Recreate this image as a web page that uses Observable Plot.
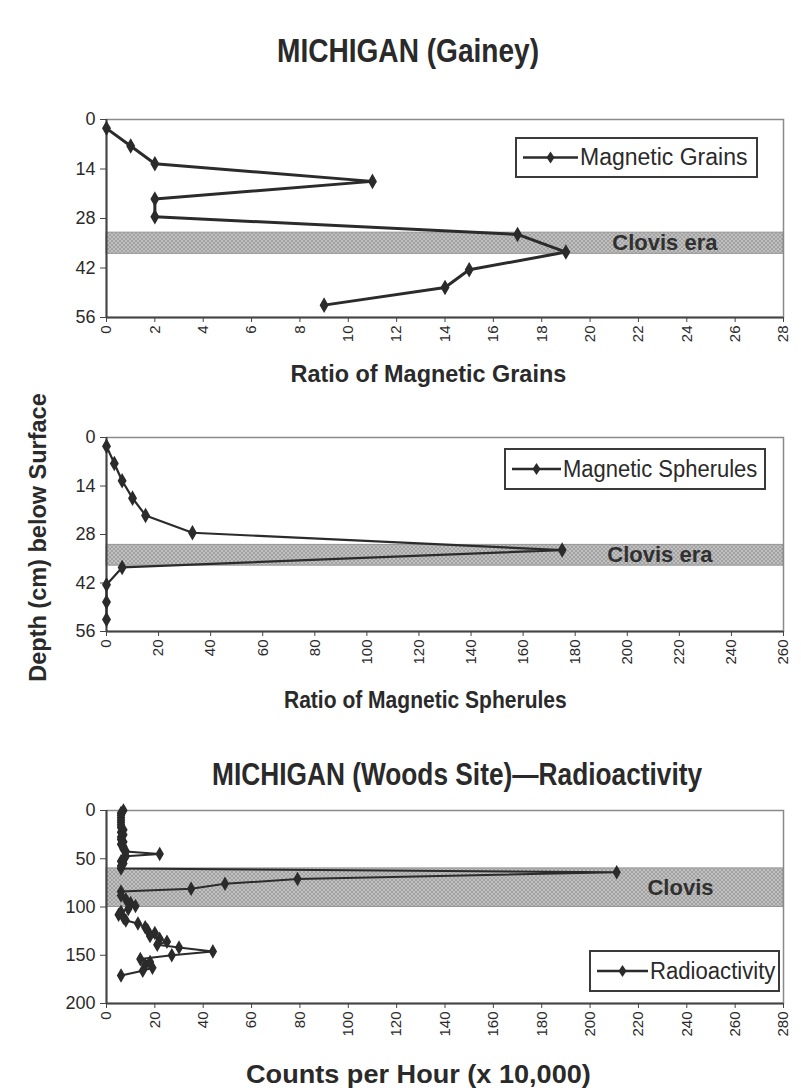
<!DOCTYPE html>
<html>
<head>
<meta charset="utf-8">
<script src="https://cdn.jsdelivr.net/npm/d3@7"></script>
<script src="https://cdn.jsdelivr.net/npm/@observablehq/plot@0.6"></script>
<style>
  html, body { margin: 0; padding: 0; background: #ffffff; }
  #root { position: relative; width: 801px; height: 1092px; overflow: hidden; }
  .panel { position: absolute; left: 0; }
  .legend { position: absolute; box-sizing: border-box; border: 2px solid #3a3a3a; background: #fff;
            font-family: 'Liberation Sans', Arial, sans-serif; color: #2a2a2a; }
</style>
</head>
<body>
<svg width="0" height="0" style="position:absolute">
  <defs>
    <pattern id="hatch" width="4" height="4" patternUnits="userSpaceOnUse">
      <rect width="4" height="4" fill="#c0c0c0"></rect>
      <path d="M0,0 L4,4 M4,0 L0,4" stroke="#a2a2a2" stroke-width="1"></path>
    </pattern>
  </defs>
</svg>
<div id="root"></div>
<script>
// ---------- DATA ----------
const grainsDepth = [2.5, 7.5, 12.5, 17.5, 22.5, 27.5, 32.5, 37.5, 42.5, 47.5, 52.5];
const grainsRatio = [0, 1, 2, 11, 2, 2, 17, 19, 15, 14, 9];

const spherDepth = [2.5, 7.5, 12.5, 17.5, 22.5, 27.5, 32.5, 37.5, 42.5, 47.5, 52.5];
const spherRatio = [0, 3, 6, 10, 15, 33, 175, 6, 0, 0, 0];

const radDepth = [0, 2.5, 5, 7.5, 10, 12.5, 15, 17.5, 20, 22.5, 25, 27.5, 30, 32.5, 35, 37.5, 40, 42.5, 45, 47.5,
                  50, 52.5, 55, 57.5, 60, 64, 71, 76, 81, 84, 88, 92, 96, 99, 102, 105, 108, 111, 114, 117,
                  121, 124, 127, 130, 133, 136, 139, 142, 146, 150, 154, 157, 160, 163, 166, 171];
const radCounts = [7, 6, 6, 6, 6, 6, 6, 6, 7, 6, 7, 6, 6, 7, 6, 7, 7, 8, 22, 8,
                   7, 6, 7, 6, 6, 211, 79, 49, 35, 6, 6, 8, 10, 12, 9, 6, 5, 7, 8, 13,
                   16, 17, 20, 18, 22, 25, 21, 30, 44, 27, 14, 18, 16, 19, 15, 6];

const grainsTicksX = d3.range(0, 29, 2);
const spherTicksX = d3.range(0, 261, 20);
const radTicksX = d3.range(0, 281, 20);
const depthTicks56 = [0, 14, 28, 42, 56];
const depthTicks200 = [0, 50, 100, 150, 200];

const clovisBand1 = [{from: 32, to: 38, label: "Clovis era"}];
const clovisBand2 = [{from: 31, to: 37, label: "Clovis era"}];
const clovisBand3 = [{from: 60, to: 100, label: "Clovis"}];

// ---------- HELPERS ----------
const root = document.getElementById("root");
const FONT = "'Liberation Sans', Arial, sans-serif";
const INK = "#2b2b2b";

function panel({top, plotH, xTicks, yTicks, depth, values, band, labelDx, lineW, dotR}) {
  const data = depth.map((d, i) => ({depth: d, v: values[i]}));
  const chart = Plot.plot({
    width: 801,
    height: 10 + plotH + 45,
    marginLeft: 106, marginRight: 18, marginTop: 10, marginBottom: 45,
    style: {fontFamily: FONT, color: INK, background: "transparent", overflow: "visible"},
    x: {domain: [xTicks[0], xTicks[xTicks.length - 1]], ticks: xTicks, label: null},
    y: {domain: [yTicks[0], yTicks[yTicks.length - 1]], reverse: true, ticks: yTicks, label: null},
    marks: [
      Plot.rect(band, {y1: "from", y2: "to", fill: "url(#hatch)", stroke: "#959595", strokeWidth: 1}),
      Plot.frame({stroke: "#8a8a8a", strokeWidth: 1.5}),
      Plot.ruleX([xTicks[0]], {stroke: "#444", strokeWidth: 2}),
      Plot.ruleY([yTicks[yTicks.length - 1]], {stroke: "#444", strokeWidth: 2}),
      Plot.axisX({ticks: xTicks, tickRotate: -90, tickSize: 5, tickPadding: 3, fontSize: 15, label: null, stroke: "#444"}),
      Plot.axisY({ticks: yTicks, tickSize: 6, tickPadding: 5, fontSize: 18, label: null, stroke: "#444"}),
      Plot.text(band, {y: d => (d.from + d.to) / 2, text: "label", frameAnchor: "right", textAnchor: "end",
                       dx: labelDx, fontSize: 22, fontWeight: "bold", fill: "#303030"}),
      Plot.line(data, {x: "v", y: "depth", stroke: INK, strokeWidth: lineW}),
      Plot.dot(data, {x: "v", y: "depth", symbol: "diamond", r: dotR, fill: INK, stroke: INK})
    ]
  });
  chart.classList.add("panel");
  chart.style.top = (top - 10) + "px";
  root.appendChild(chart);
}

function fitText(text, size, bold) {
  const el = document.createElement("div");
  el.textContent = text;
  el.style.cssText = `position:absolute;white-space:nowrap;font-family:${FONT};font-size:${size}px;` +
    `font-weight:${bold ? "bold" : "normal"};color:#2a2a2a;line-height:1;left:0;top:0;`;
  return el;
}

function label(text, {cx, cy, width, size, bold = true, rotate = false}) {
  const el = fitText(text, size, bold);
  root.appendChild(el);
  const w = el.offsetWidth, h = el.offsetHeight;
  const k = width / w;
  el.style.left = (cx - w / 2) + "px";
  el.style.top = (cy - h / 2) + "px";
  el.style.transform = (rotate ? "rotate(-90deg) " : "") + `scaleX(${k})`;
}

function legend(text, {left, top, width, height, size, textLeft, textWidth}) {
  const box = document.createElement("div");
  box.className = "legend";
  box.style.left = left + "px"; box.style.top = top + "px";
  box.style.width = width + "px"; box.style.height = height + "px";
  const inner = height - 4;
  const lineLen = textLeft - left - 10;
  const mid = lineLen / 2;
  box.innerHTML = `<svg width="${lineLen + 2}" height="${inner}" style="position:absolute;left:6px;top:0">
      <line x1="0" y1="${inner / 2}" x2="${lineLen}" y2="${inner / 2}" stroke="${INK}" stroke-width="2.5"></line>
      <path d="M${mid},${inner / 2 - 6} L${mid + 4},${inner / 2} L${mid},${inner / 2 + 6} L${mid - 4},${inner / 2} Z" fill="${INK}"></path></svg>`;
  root.appendChild(box);
  const el = fitText(text, size, false);
  root.appendChild(el);
  const w = el.offsetWidth, h = el.offsetHeight;
  el.style.left = textLeft + "px";
  el.style.top = (top + height / 2 - h / 2) + "px";
  el.style.transformOrigin = "0 50%";
  el.style.transform = `scaleX(${textWidth / w})`;
}

// ---------- PANELS ----------
panel({top: 119, plotH: 198, xTicks: grainsTicksX, yTicks: depthTicks56, depth: grainsDepth,
       values: grainsRatio, band: clovisBand1, labelDx: -66, lineW: 3, dotR: 3.8});
panel({top: 437, plotH: 194, xTicks: spherTicksX, yTicks: depthTicks56, depth: spherDepth,
       values: spherRatio, band: clovisBand2, labelDx: -71, lineW: 2.2, dotR: 3.8});
panel({top: 810, plotH: 193, xTicks: radTicksX, yTicks: depthTicks200, depth: radDepth,
       values: radCounts, band: clovisBand3, labelDx: -70, lineW: 2, dotR: 3.5});

// ---------- TEXTS ----------
label("MICHIGAN (Gainey)", {cx: 408, cy: 50, width: 262, size: 33});
label("Ratio of Magnetic Grains", {cx: 428, cy: 374, width: 276, size: 24});
label("Depth (cm) below Surface", {cx: 38, cy: 537, width: 288, size: 23, rotate: true});
label("Ratio of Magnetic Spherules", {cx: 425, cy: 700, width: 283, size: 24});
label("MICHIGAN (Woods Site)\u2014Radioactivity", {cx: 457, cy: 774, width: 490, size: 31});
label("Counts per Hour (x 10,000)", {cx: 418, cy: 1074, width: 345, size: 26});

legend("Magnetic Grains", {left: 515, top: 137, width: 243, height: 41, size: 23, textLeft: 580, textWidth: 167});
legend("Magnetic Spherules", {left: 504, top: 448, width: 262, height: 42, size: 23, textLeft: 563, textWidth: 194});
legend("Radioactivity", {left: 589, top: 950, width: 191, height: 42, size: 23, textLeft: 650, textWidth: 125});
</script>
</body>
</html>
